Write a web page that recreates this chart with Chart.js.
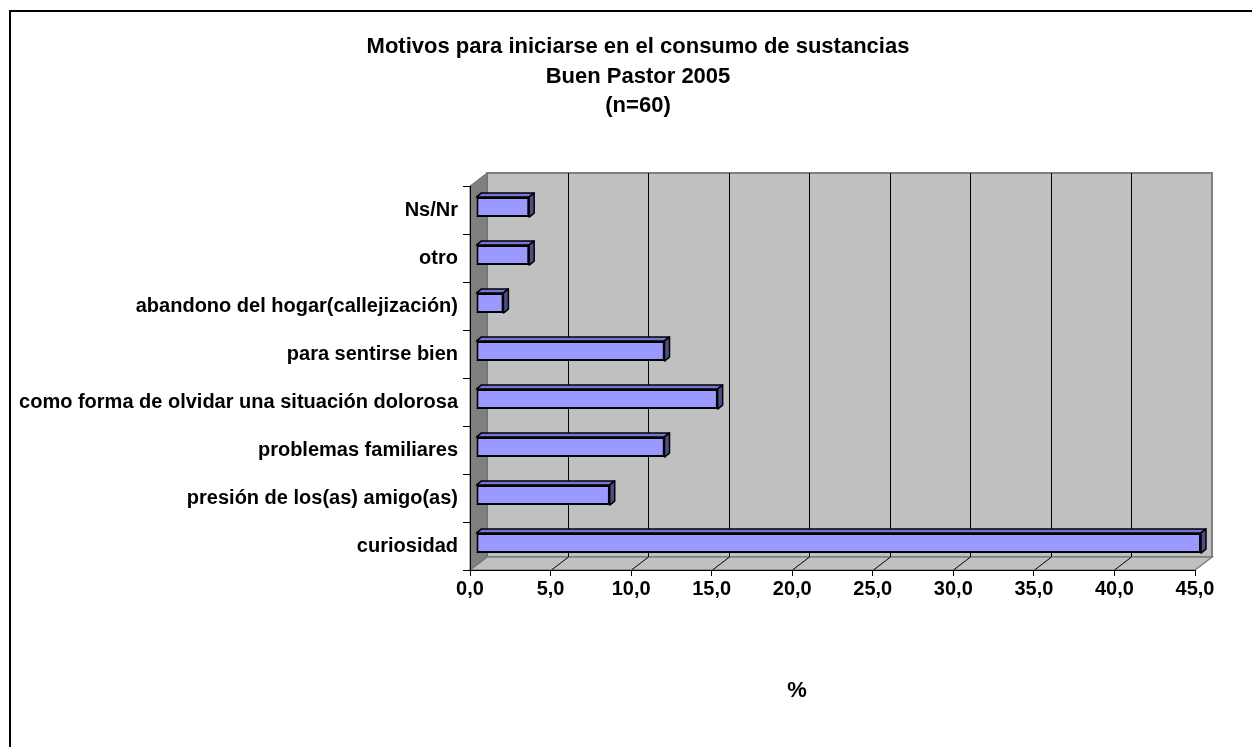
<!DOCTYPE html>
<html><head><meta charset="utf-8">
<script src="https://cdn.jsdelivr.net/npm/chart.js@4"></script>
<style>html,body{margin:0;padding:0;background:#fff;}canvas{display:block}</style>
</head><body>
<canvas id="c" width="1252" height="747"></canvas>
<script>
const titleLines = ['Motivos para iniciarse en el consumo de sustancias', 'Buen Pastor 2005', '(n=60)'];
const categories = ['Ns/Nr', 'otro', 'abandono del hogar(callejización)', 'para sentirse bien',
  'como forma de olvidar una situación dolorosa', 'problemas familiares',
  'presión de los(as) amigo(as)', 'curiosidad'];
const values = [3.3, 3.3, 1.7, 11.7, 15.0, 11.7, 8.3, 45.0];
const xTickLabels = ['0,0', '5,0', '10,0', '15,0', '20,0', '25,0', '30,0', '35,0', '40,0', '45,0'];
const xAxisTitle = '%';

const FONT = "'Liberation Sans', Arial, sans-serif";
const DEPTH = {dx: 17, dy: -13};     // wall depth
const FRONT = {dx: 6, dy: -3};       // bar front face shift
const BARD = {dx: 5, dy: -4};        // bar depth

const walls = {
  id: 'walls',
  beforeDraw(chart) {
    const ctx = chart.ctx, a = chart.chartArea, xs = chart.scales.x;
    const L = a.left, R = a.right, T = a.top, B = a.bottom, dx = DEPTH.dx, dy = DEPTH.dy;
    ctx.save();
    // outer frame
    ctx.fillStyle = '#000';
    ctx.fillRect(9, 10, 2, 737);
    ctx.fillRect(9, 10, 1243, 2);
    // back wall
    ctx.fillStyle = '#c0c0c0';
    ctx.fillRect(L + dx, T + dy, R - L, B - T);
    ctx.strokeStyle = '#808080'; ctx.lineWidth = 2;
    ctx.strokeRect(L + dx, T + dy, R - L, B - T);
    // floor
    ctx.beginPath();
    ctx.moveTo(L, B); ctx.lineTo(L + dx, B + dy); ctx.lineTo(R + dx, B + dy); ctx.lineTo(R, B); ctx.closePath();
    ctx.fillStyle = '#c0c0c0'; ctx.fill();
    ctx.strokeStyle = '#808080'; ctx.lineWidth = 1.5; ctx.stroke();
    // left wall
    ctx.beginPath();
    ctx.moveTo(L, T); ctx.lineTo(L + dx, T + dy); ctx.lineTo(L + dx, B + dy); ctx.lineTo(L, B); ctx.closePath();
    ctx.fillStyle = '#808080'; ctx.fill();
    ctx.strokeStyle = '#6a6a6a'; ctx.lineWidth = 1; ctx.stroke();
    // gridlines on back wall and floor
    ctx.strokeStyle = '#000'; ctx.lineWidth = 1;
    xs.ticks.forEach((t, i) => {
      if (i === 0 || i === xs.ticks.length - 1) return;
      const x = Math.round(xs.getPixelForValue(t.value)) + 0.5;
      ctx.beginPath();
      ctx.moveTo(x + dx, T + dy); ctx.lineTo(x + dx, B + dy);
      ctx.moveTo(x, B); ctx.lineTo(x + dx, B + dy);
      ctx.stroke();
    });
    // titles
    ctx.fillStyle = '#000';
    ctx.font = 'bold 22px ' + FONT;
    ctx.textAlign = 'center'; ctx.textBaseline = 'alphabetic';
    titleLines.forEach((s, i) => ctx.fillText(s, 638, 53 + i * 29.5));
    ctx.fillText(xAxisTitle, 797, 697);
    ctx.restore();
  },
  beforeDatasetDraw(chart) {
    chart.ctx.save();
    chart.ctx.translate(FRONT.dx, FRONT.dy);
  },
  afterDatasetDraw(chart, args) {
    const ctx = chart.ctx;
    const meta = args.meta;
    meta.data.forEach(el => {
      const p = el.getProps(['x', 'y', 'base', 'height'], true);
      const top = p.y - p.height / 2, bot = p.y + p.height / 2;
      const x0 = Math.min(p.base, p.x), x1 = Math.max(p.base, p.x);
      ctx.lineWidth = 1.5; ctx.strokeStyle = '#000'; ctx.lineJoin = 'round';
      // top face
      ctx.beginPath();
      ctx.moveTo(x0, top); ctx.lineTo(x1, top); ctx.lineTo(x1 + BARD.dx, top + BARD.dy); ctx.lineTo(x0 + BARD.dx, top + BARD.dy); ctx.closePath();
      ctx.fillStyle = '#7676d0'; ctx.fill(); ctx.stroke();
      // side face
      ctx.beginPath();
      ctx.moveTo(x1, top); ctx.lineTo(x1 + BARD.dx, top + BARD.dy); ctx.lineTo(x1 + BARD.dx, bot + BARD.dy); ctx.lineTo(x1, bot); ctx.closePath();
      ctx.fillStyle = '#4c4c8f'; ctx.fill(); ctx.stroke();
    });
    ctx.restore();
  }
};

new Chart(document.getElementById('c'), {
  type: 'bar',
  data: {
    labels: categories,
    datasets: [{
      data: values,
      backgroundColor: '#9999ff',
      borderColor: '#000',
      borderWidth: 2,
      borderSkipped: false,
      categoryPercentage: 1,
      barPercentage: 0.42,
      clip: false
    }]
  },
  options: {
    indexAxis: 'y',
    responsive: false,
    animation: false,
    devicePixelRatio: 1,
    layout: {padding: {top: 186, right: 57, left: 0, bottom: 0}},
    plugins: {legend: {display: false}, tooltip: {enabled: false}, title: {display: false}},
    scales: {
      x: {
        type: 'linear', min: 0, max: 45,
        afterFit(s) { s.height = 177; },
        ticks: {stepSize: 5, autoSkip: false, color: '#000', padding: 1,
          font: {family: FONT, size: 20, weight: 'bold'},
          callback: (v, i) => xTickLabels[i]},
        grid: {drawOnChartArea: false, drawTicks: true, tickLength: 6, color: '#000'},
        border: {display: true, color: '#000', width: 1}
      },
      y: {
        afterFit(s) { s.width = 470; },
        ticks: {autoSkip: false, color: '#000', padding: 5,
          font: {family: FONT, size: 20, weight: 'bold'}},
        grid: {drawOnChartArea: false, drawTicks: true, tickLength: 7, color: '#000', offset: true},
        border: {display: true, color: '#000', width: 1}
      }
    }
  },
  plugins: [walls]
});
</script>
</body></html>
